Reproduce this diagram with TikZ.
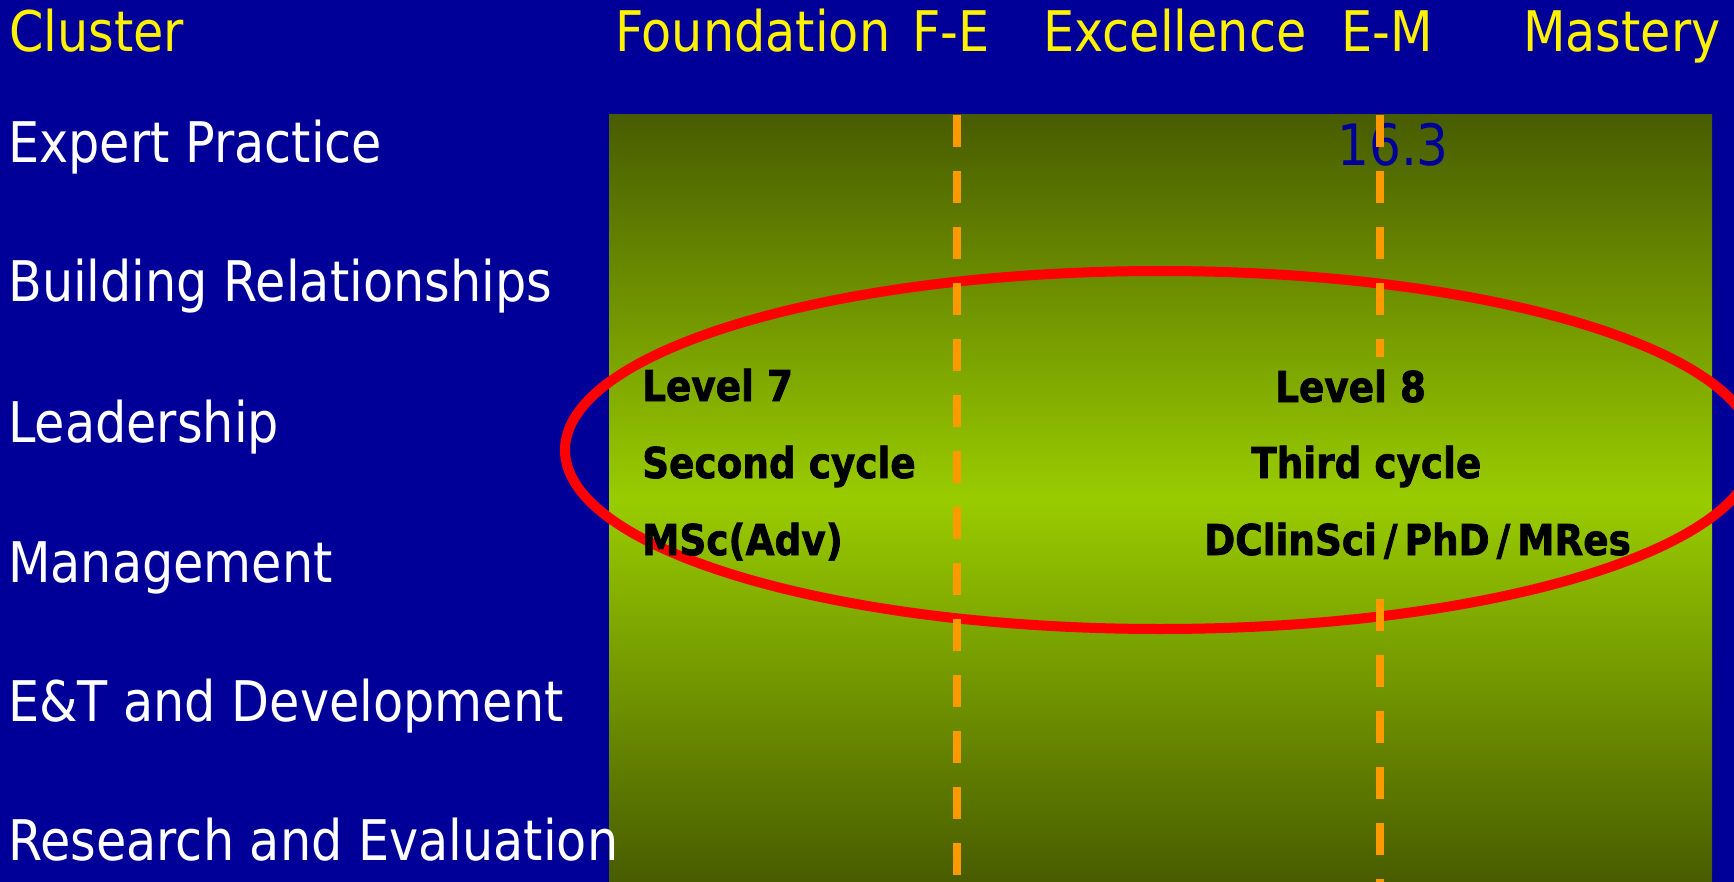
\documentclass[tikz,border=0pt]{standalone}
\usepackage{fontspec}
\newfontfamily\slidefont[FakeStretch=0.88]{DejaVu Sans}
\newfontfamily\slidebold[FakeStretch=0.88, BoldFeatures={FakeBold=1.6}]{DejaVu Sans}

\definecolor{slideblue}{RGB}{0,0,153}
\definecolor{olivedark}{RGB}{72,92,0}
\definecolor{bandlime}{RGB}{153,204,0}
\definecolor{dashorange}{RGB}{255,153,0}

% dark olive at the top and bottom, bright lime in the middle
% (the filled area maps onto 25bp..75bp of the shading)
\pgfdeclareverticalshading{bandshade}{100bp}{%
  color(0bp)=(olivedark); color(25bp)=(olivedark); color(50bp)=(bandlime);
  color(75bp)=(olivedark); color(100bp)=(olivedark)}

\tikzset{
  header/.style={anchor=base west, inner sep=0pt, text=yellow,
    font=\slidefont\fontsize{56}{60}\selectfont},
  cluster/.style={anchor=base west, inner sep=0pt, text=white,
    font=\slidefont\fontsize{56}{60}\selectfont},
  levels/.style={anchor=base west, inner sep=0pt, text=black,
    font=\slidebold\bfseries\fontsize{42.5}{48}\selectfont},
  refno/.style={anchor=base west, inner sep=0pt, text=slideblue,
    font=\slidefont\fontsize{57}{60}\selectfont},
  dashline/.style={draw=dashorange, line width=8pt, dash pattern=on 32pt off 24pt},
  ring/.style={draw=red, line width=10pt},
}
\newcommand\wideslash{\kern7pt/\kern7pt}

\begin{document}
\begin{tikzpicture}[x=1pt, y=-1pt]
\useasboundingbox (0,0) rectangle (1734,882);
\fill[slideblue] (0,0) rectangle (1734,882);

% graded band behind the levels
\shade[shading=bandshade] (609,115) rectangle (1712,882);

\node[refno] (ref) at (1337,166) {16.3};

% ring round the level descriptions
\draw[ring] (1160,450) ellipse [x radius=595pt, y radius=179pt];

% boundaries between the stages
\coordinate (fetop) at (957,115);
\coordinate (febot) at (957,882);
\coordinate (emtop) at (1380,115);
\coordinate (emmidA) at (1380,357);
\coordinate (emmidB) at (1380,599);
\coordinate (embot) at (1380,882);
\draw[dashline] (fetop) -- (febot);
\draw[dashline] (emtop) -- (emmidA);
\draw[dashline] (emmidB) -- (embot);

% level descriptions
\node[levels] (l7a) at (642,401) {Level 7};
\node[levels] (l7b) at (642,478) {Second cycle};
\node[levels] (l7c) at (642,555) {MSc(Adv)};
\node[levels] (l8a) at (1275,402) {Level 8};
\node[levels] (l8b) at (1251,478) {Third cycle};
\node[levels] (l8c) at (1204,555) {DClinSci\wideslash PhD\wideslash MRes};

% column headings
\node[header] (hcl) at (9,52) {Cluster};
\node[header] (hfo) at (615,52) {Foundation};
\node[header] (hfe) at (912,52) {F-E};
\node[header] (hex) at (1043,52) {Excellence};
\node[header] (hem) at (1341,52) {E-M};
\node[header] (hma) at (1523,52) {Mastery};

% clusters
\node[cluster] (c1) at (8,163) {Expert Practice};
\node[cluster] (c2) at (8,302) {Building Relationships};
\node[cluster] (c3) at (8,442) {Leadership};
\node[cluster] (c4) at (8,582) {Management};
\node[cluster] (c5) at (8,721) {E\&T and Development};
\node[cluster] (c6) at (8,860) {Research and Evaluation};
\end{tikzpicture}
\end{document}
